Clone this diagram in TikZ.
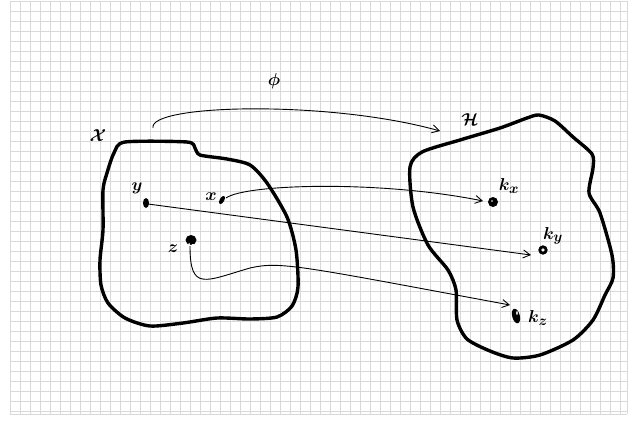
\documentclass[tikz,border=0pt]{standalone}
\usepackage{amsmath}
\usepackage{bm}
\usetikzlibrary{arrows.meta}
\tikzset{
  gridline/.style={draw=black!15, line width=0.8pt},
  blob/.style={draw=black, line width=3.4pt, line join=round},
  mapline/.style={draw=black, line width=0.9pt, -{Straight Barb[length=7pt,width=8pt]}},
  lbl/.style={inner sep=0pt, font=\fontsize{19}{21}\selectfont},
  dotfill/.style={fill=black},
}
\begin{document}
\begin{tikzpicture}[x=1pt,y=-1pt]
  \useasboundingbox (0,0) rectangle (641,424);
  % squared paper
  \foreach \gx in {10,20,...,620} \draw[gridline] (\gx,1) -- (\gx,414);
  \draw[gridline] (627,1) -- (627,414);
  \foreach \gy in {1,11,...,411} \draw[gridline] (10,\gy) -- (627,\gy);
  \draw[gridline] (10,414) -- (627,414);

  % input space X
  \draw[blob] plot[smooth cycle, tension=0.45] coordinates {
    (125,142) (187,142) (195,148) (200,155) (227,159) (250,165) (267,183)
    (287,217) (296,250) (298,287) (292,306) (277,317) (250,319) (217,318)
    (183,323) (150,326) (125,318) (108,303) (101,285) (100,260) (103,230)
    (103,190) (107,173) (114,153)};

  % feature space H
  \draw[blob] plot[smooth cycle, tension=0.45] coordinates {
    (410,167) (422,152) (460,140) (500,128) (527,118) (539,115) (555,121)
    (573,137) (592,154) (593,168) (589,193) (600,213) (612,255) (613,278)
    (605,295) (593,320) (573,340) (540,355) (513,358) (490,351) (467,339)
    (457,320) (456,290) (448,270) (428,245) (413,207)};

  % points in X
  \fill[dotfill, rotate around={-30:(222,200)}] (222,200) ellipse (2.3 and 4.6);
  \fill[dotfill] (146,203) ellipse (3 and 5);
  \fill[dotfill] (191,240) ellipse (5.5 and 5);
  \draw[white, line width=1pt] (189,243) arc (200:20:2);
  % points in H
  \fill[dotfill] (493,202) ellipse (5 and 5);
  \fill[white] (492,201) circle (0.9);
  \draw[black, line width=2.8pt] (543,250) circle (3.2);
  \fill[dotfill, rotate around={15:(516,316)}] (516,316) ellipse (3.8 and 7.5);
  \fill[white] (517,313) ellipse (0.8 and 2);

  \coordinate (xp) at (226,198);
  \coordinate (yp) at (148,204);
  \coordinate (zp) at (190,246);
  \coordinate (kx) at (483,201);
  \coordinate (ky) at (531,255);
  \coordinate (kz) at (510,305);
  \coordinate (phis) at (153,128);
  \coordinate (phie) at (440,131);

  % labels
  \node[lbl] (lX) at (98,136) {$\bm{\mathcal{X}}$};
  \node[lbl] (lH) at (470,120) {$\bm{\mathcal{H}}$};
  \node[lbl] (lphi) at (274,81) {$\bm{\phi}$};
  \node[lbl] (ly) at (137,188) {$\bm{y}$};
  \node[lbl] (lx) at (211,197) {$\bm{x}$};
  \node[lbl] (lz) at (173,249) {$\bm{z}$};
  \node[lbl] (lkx) at (509,186) {$\bm{k_x}$};
  \node[lbl] (lky) at (553,236) {$\bm{k_y}$};
  \node[lbl] (lkz) at (538,318) {$\bm{k_z}$};

  % feature map and its images
  \draw[mapline] (phis) .. controls (148,104) and (330,100) .. (phie);
  \draw[mapline] (xp) .. controls (245,184) and (380,180) .. (kx);
  \draw[mapline] (yp) -- (ky);
  \draw[mapline] (zp) .. controls (190,292) and (205,281) .. (250,268)
                      .. controls (280,261) and (300,266) .. (kz);
\end{tikzpicture}
\end{document}
